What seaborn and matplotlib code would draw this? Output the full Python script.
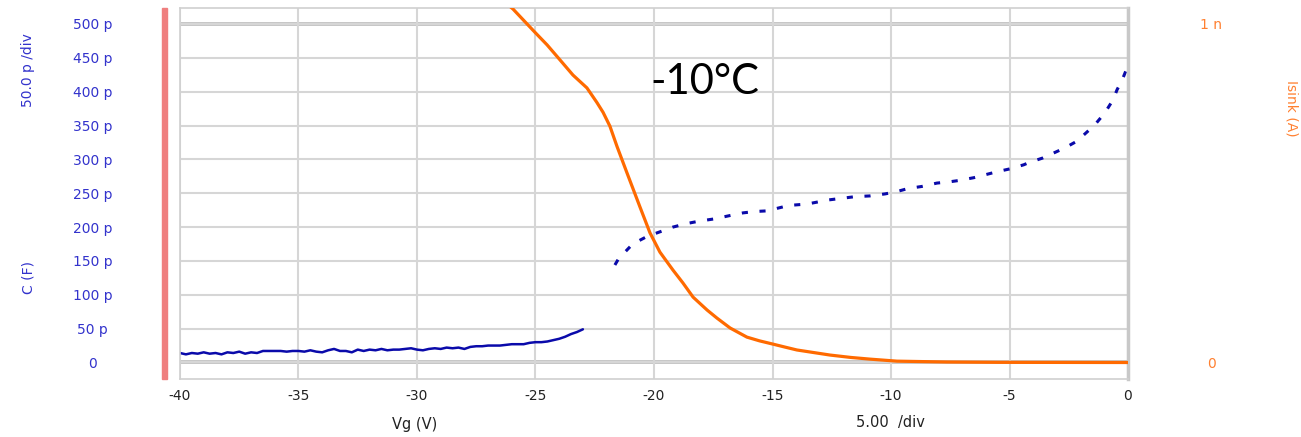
import numpy as np
import pandas as pd
import matplotlib
matplotlib.use("Agg")
import matplotlib.pyplot as plt
import seaborn as sns
from matplotlib.patches import Rectangle

# capacitance, accumulation part (continuous noisy trace, 0.25 V steps), pF
vg_low = np.arange(-40, -22.99, 0.25)
c_low = [14, 12, 14, 13, 15, 13, 14, 12, 15, 14, 16, 13, 15, 14, 17, 17,
         17, 17, 16, 17, 17, 16, 18, 16, 15, 18, 20, 17, 17, 15, 19, 17,
         19, 18, 20, 18, 19, 19, 20, 21, 19, 18, 20, 21, 20, 22, 21, 22,
         20, 23, 24, 24, 25, 25, 25, 26, 27, 27, 27, 29, 30, 30, 31, 33,
         35, 38, 42, 45, 49]

# capacitance, sparse points after the jump, pF
vg_high = [-21.65, -21.5, -20.9, -20.3, -19.75, -19.2, -18.65, -18.06, -17.47, -16.8,
           -16.24, -15.74, -15.2, -14.77, -14.3, -13.55, -13.1, -12.66, -11.5, -10.9,
           -10.25, -9.8, -9.28, -8.7, -8.06, -7.5, -7.1, -6.5, -5.5, -4.98,
           -4.4, -4.2, -3.6, -3.1, -2.66, -2.15, -1.4, -0.97, -0.63, -0.46, -0.25, -0.04]
c_high = [144, 153, 175, 186, 193, 200, 205, 209, 212, 217,
          221, 223, 224, 228, 232, 234, 237, 240, 245, 246,
          249, 252, 257, 260, 265, 267, 269, 273, 282, 286,
          292, 295, 302, 310, 317, 327, 351, 369, 388, 403, 417, 435]

# sink current, nA
vg_i = [-26.3, -25.95, -25.02, -24.51, -23.97, -23.42, -22.83, -22.41, -22.15, -21.86,
        -21.56, -21.14, -20.59, -20.17, -19.75, -19.2, -18.78, -18.35, -17.76, -17.34,
        -16.79, -16.08, -15.55, -15.02, -14.5, -13.97, -12.57, -11.7, -10.89, -9.75,
        -7.64, -5.4, 0]
isink = [1.065, 1.044, 0.975, 0.938, 0.894, 0.849, 0.811, 0.768, 0.739, 0.698,
         0.638, 0.560, 0.459, 0.383, 0.326, 0.273, 0.235, 0.193, 0.155, 0.131,
         0.102, 0.075, 0.064, 0.055, 0.046, 0.037, 0.022, 0.015, 0.010, 0.004,
         0.0015, 0.0005, 0.0]

c_ticks = [0, 50, 100, 150, 200, 250, 300, 350, 400, 450, 500]
c_ticklabels = ["0"] + [f"{v} p" for v in c_ticks[1:]]
x_ticks = [-40, -35, -30, -25, -20, -15, -10, -5, 0]

blue = "#0A0AAA"
blue_txt = "#3333CC"
orange = "#FF6A00"
orange_txt = "#FF8030"
grid_c = "#D6D6D6"

sns.set_style("white")
plt.rcParams["font.family"] = ["DejaVu Sans"]

W, H = 1301, 437
fig = plt.figure(figsize=(W / 100, H / 100), dpi=100)
ax = fig.add_axes([180 / W, 1 - 379 / H, 948 / W, 371 / H])

low = pd.DataFrame({"vg": vg_low, "c": c_low})
high = pd.DataFrame({"vg": vg_high, "c": c_high})
cur = pd.DataFrame({"vg": vg_i, "i": isink})

sns.lineplot(data=low, x="vg", y="c", ax=ax, color=blue, lw=1.8)
sns.lineplot(data=high, x="vg", y="c", ax=ax, color=blue, lw=2.2,
             linestyle=(0, (2, 3.8)))

ax.set_xlim(-40, 0)
ax.set_ylim(-24.4, 523.6)
ax.set_xticks(x_ticks)
ax.set_xticklabels([str(v) for v in x_ticks])
ax.set_yticks(c_ticks)
ax.set_yticklabels(c_ticklabels)
ax.grid(True, color=grid_c, lw=1.5)
ax.set_axisbelow(True)
for v in (0, 500):
    ax.axhline(v, color="#C4C4C4", lw=2.8, zorder=0.5)
ax.set_xlabel("")
ax.set_ylabel("")
ax.tick_params(axis="y", length=0, pad=63, labelsize=10, labelcolor=blue_txt)
for lab in ax.get_yticklabels():
    lab.set_horizontalalignment("center")
ax.tick_params(axis="x", length=0, pad=7, labelsize=10, labelcolor="#222222")
for side in ("left", "top", "bottom"):
    ax.spines[side].set_color("#D0D0D0")
    ax.spines[side].set_linewidth(1.2)
ax.spines["right"].set_color("#C8C8C8")
ax.spines["right"].set_linewidth(2.5)

ax2 = ax.twinx()
sns.lineplot(data=cur, x="vg", y="i", ax=ax2, color=orange, lw=2.3)
ax2.set_ylim(-0.0487, 1.047)
ax2.set_yticks([0, 1])
ax2.set_yticklabels(["0", "1 n"])
ax2.tick_params(axis="y", length=0, pad=60, labelsize=10, labelcolor=orange_txt)
for lab in ax2.get_yticklabels():
    lab.set_horizontalalignment("center")
ax2.set_ylabel("")
for s in ax2.spines.values():
    s.set_visible(False)

ax2.text((705 - 180) / 948, 1 - (82 - 8) / 371, "-10°C",
         transform=ax.transAxes, ha="center", va="center",
         fontsize=30, family="Lato", color="black")

# red marker bar left of the plot
fig.patches.append(Rectangle((162 / W, 1 - 379 / H), 5 / W, 371 / H,
                             transform=fig.transFigure, color="#EF7F7F"))

fig.text(28 / W, 1 - 70 / H, "50.0 p /div", rotation=90, ha="center",
         va="center", fontsize=10, color=blue_txt)
fig.text(28 / W, 1 - 278 / H, "C (F)", rotation=90, ha="center",
         va="center", fontsize=10, color=blue_txt)
fig.text(1291 / W, 1 - 108 / H, "Isink (A)", rotation=270, ha="center",
         va="center", fontsize=10, color=orange_txt)
fig.text(415 / W, 1 - 424 / H, "Vg (V)", ha="center", va="center",
         fontsize=10.5, color="#222222")
fig.text(890 / W, 1 - 423 / H, "5.00  /div", ha="center", va="center",
         fontsize=10.5, color="#222222")

fig.savefig("out.png", dpi=100)
